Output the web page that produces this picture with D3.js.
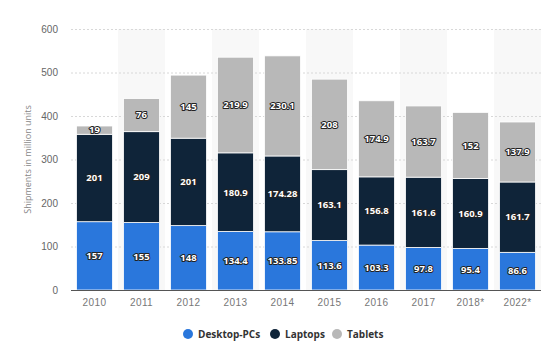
<!DOCTYPE html>
<html lang="en">
	<head>
		<meta charset="utf-8">
		<title>Shipments</title>
		<script type="text/javascript" src="https://cdnjs.cloudflare.com/ajax/libs/d3/7.8.5/d3.min.js"></script>
		<style type="text/css">
			body { margin: 0; background: #fff; }
			svg { font-family: "Open Sans", "DejaVu Sans", sans-serif; }
		</style>
	</head>
	<body>
		<script type="text/javascript">

			//Data
			var years = ["2010", "2011", "2012", "2013", "2014", "2015", "2016", "2017", "2018*", "2022*"];
			var desktops = [157, 155, 148, 134.4, 133.85, 113.6, 103.3, 97.8, 95.4, 86.6];
			var laptops = [201, 209, 201, 180.9, 174.28, 163.1, 156.8, 161.6, 160.9, 161.7];
			var tablets = [19, 76, 145, 219.9, 230.1, 208, 174.9, 163.7, 152, 137.9];
			var seriesNames = ["Desktop-PCs", "Laptops", "Tablets"];
			var colors = ["#2a77dc", "#0f2439", "#b8b8b8"];
			var yTicks = [0, 100, 200, 300, 400, 500, 600];

			var w = 559;
			var h = 353;
			var margin = {top: 29, right: 18, bottom: 63, left: 71};

			var dataset = years.map(function(y, i) {
				return {year: y, "Desktop-PCs": desktops[i], "Laptops": laptops[i], "Tablets": tablets[i]};
			});

			var stack = d3.stack().keys(seriesNames);
			var series = stack(dataset);

			var xScale = d3.scaleBand()
						   .domain(years)
						   .range([margin.left, w - margin.right])
						   .paddingInner(0.234)
						   .paddingOuter(0.117);

			var bgScale = d3.scaleBand()
						   .domain(years)
						   .range([margin.left, w - margin.right]);

			var yScale = d3.scaleLinear()
						   .domain([0, 600])
						   .range([h - margin.bottom, margin.top]);

			var svg = d3.select("body")
						.append("svg")
						.attr("width", w)
						.attr("height", h);

			//Alternating column backgrounds
			svg.selectAll("rect.bg")
			   .data(years.filter(function(d, i) { return i % 2 == 1; }))
			   .enter()
			   .append("rect")
			   .attr("class", "bg")
			   .attr("x", function(d) { return bgScale(d); })
			   .attr("y", margin.top)
			   .attr("width", bgScale.bandwidth())
			   .attr("height", yScale(0) - margin.top)
			   .attr("fill", "#f8f8f8");

			//Gridlines
			svg.selectAll("line.grid")
			   .data(yTicks.slice(1))
			   .enter()
			   .append("line")
			   .attr("x1", margin.left)
			   .attr("x2", w - margin.right)
			   .attr("y1", function(d) { return yScale(d) + 0.5; })
			   .attr("y2", function(d) { return yScale(d) + 0.5; })
			   .attr("stroke", "#d8d8d8")
			   .attr("stroke-dasharray", "2,2")
			   .attr("stroke-width", 1);

			//Y axis labels
			var yAxis = d3.axisLeft(yScale).tickValues(yTicks).tickSize(0).tickPadding(13);
			var yG = svg.append("g")
				.attr("transform", "translate(" + margin.left + ",0)")
				.call(yAxis);
			yG.select(".domain").remove();
			yG.selectAll("text").attr("fill", "#666").attr("font-size", "10px");

			//Bars
			var groups = svg.selectAll("g.series")
				.data(series)
				.enter()
				.append("g")
				.attr("fill", function(d, i) { return colors[i]; });

			groups.selectAll("rect")
				.data(function(d) { return d; })
				.enter()
				.append("rect")
				.attr("x", function(d) { return xScale(d.data.year); })
				.attr("y", function(d) { return yScale(d[1]); })
				.attr("width", xScale.bandwidth())
				.attr("height", function(d) { return yScale(d[0]) - yScale(d[1]); })
				.attr("stroke", "#fff")
				.attr("stroke-width", 0.8);

			//Value labels
			groups.selectAll("text")
				.data(function(d) { return d; })
				.enter()
				.append("text")
				.text(function(d) { return d[1] - d[0] > 0 ? String(+(d[1] - d[0]).toFixed(2)) : ""; })
				.attr("x", function(d) { return xScale(d.data.year) + xScale.bandwidth() / 2; })
				.attr("y", function(d) { return (yScale(d[0]) + yScale(d[1])) / 2; })
				.attr("dy", "0.35em")
				.attr("text-anchor", "middle")
				.attr("font-size", "9.5px")
				.attr("font-weight", "bold")
				.attr("fill", "#fff")
				.attr("stroke", "#222")
				.attr("stroke-width", 2)
				.attr("stroke-linejoin", "round")
				.attr("paint-order", "stroke");

			//X axis
			var xAxis = d3.axisBottom(xScale).tickSize(0).tickPadding(9);
			var xG = svg.append("g")
				.attr("transform", "translate(0," + yScale(0) + ")")
				.call(xAxis);
			xG.select(".domain").remove();
			xG.selectAll("text").attr("fill", "#777").attr("font-size", "10px").attr("letter-spacing", "0.4px");

			svg.append("line")
			   .attr("x1", margin.left)
			   .attr("x2", w - margin.right)
			   .attr("y1", yScale(0) + 0.5)
			   .attr("y2", yScale(0) + 0.5)
			   .attr("stroke", "#555")
			   .attr("stroke-width", 1);

			//Y axis title
			svg.append("text")
			   .attr("transform", "translate(31," + ((margin.top + yScale(0)) / 2) + ") rotate(-90)")
			   .attr("text-anchor", "middle")
			   .attr("font-size", "9px")
			   .attr("fill", "#888")
			   .text("Shipments in million units");

			//Legend
			var legendX = [188, 275, 337];
			var legend = svg.selectAll("g.legend")
				.data(seriesNames)
				.enter()
				.append("g")
				.attr("transform", function(d, i) { return "translate(" + legendX[i] + ",334)"; });

			legend.append("circle")
				.attr("r", 5)
				.attr("fill", function(d, i) { return colors[i]; });

			legend.append("text")
				.attr("x", 10)
				.attr("dy", "0.35em")
				.attr("font-size", "10px")
				.attr("font-weight", "bold")
				.attr("fill", "#333")
				.text(function(d) { return d; });

		</script>
	</body>
</html>
